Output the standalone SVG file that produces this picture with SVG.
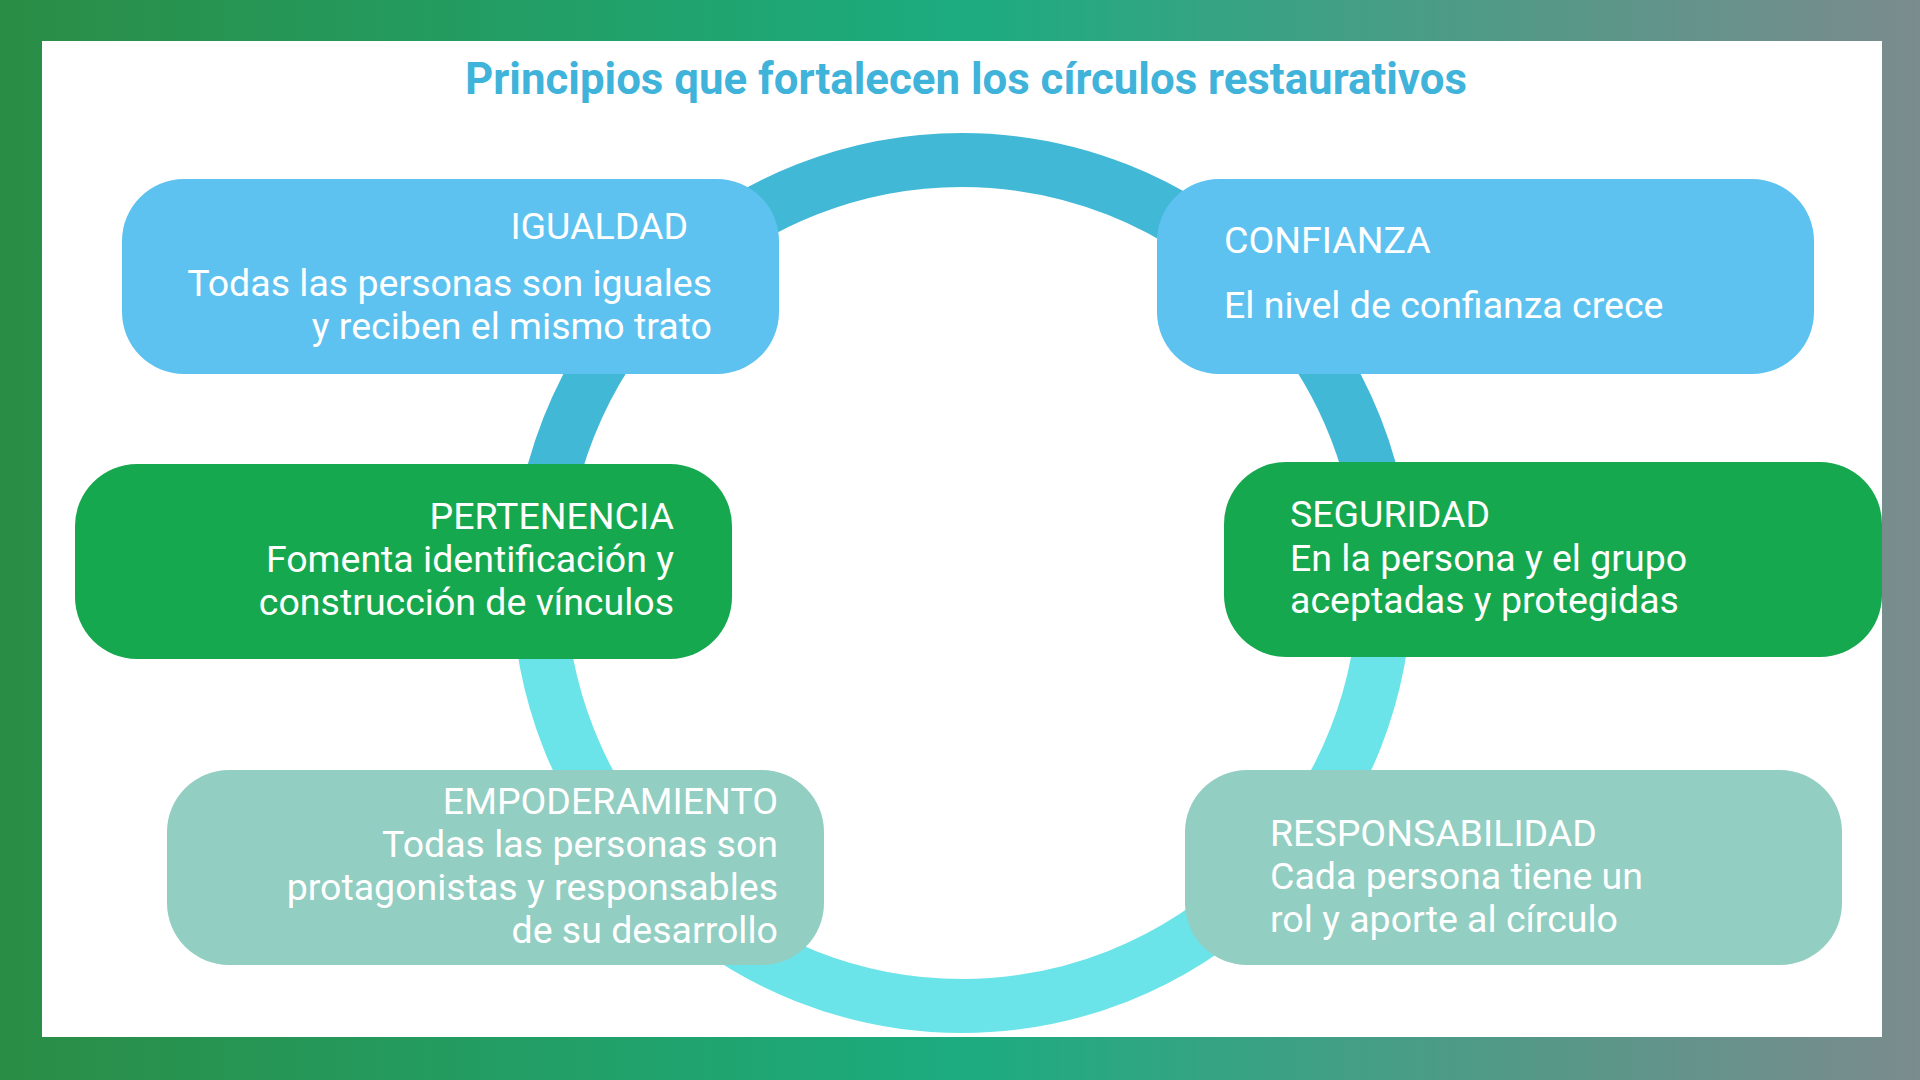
<svg xmlns="http://www.w3.org/2000/svg" width="1920" height="1080" viewBox="0 0 1920 1080">
<defs>
<linearGradient id="bg" x1="0" y1="0" x2="1" y2="0">
<stop offset="0" stop-color="#2A8D45"/>
<stop offset="0.5" stop-color="#1CAC7F"/>
<stop offset="1" stop-color="#7B8B8E"/>
</linearGradient>
</defs>
<style>
.t{font-family:Roboto,"Liberation Sans",sans-serif;font-size:37.5px;fill:#FFFFFF}
.title{font-family:Roboto,"Liberation Sans",sans-serif;font-size:43.8px;font-weight:bold;fill:#3FB3DA}
.blue{fill:#5DC2F0}
.green{fill:#16A84E}
.sage{fill:#92CEC2}
.ring{fill:none;stroke-width:54}
</style>
<rect x="0" y="0" width="1920" height="1080" fill="url(#bg)"/>
<rect x="42" y="41" width="1840" height="996" fill="#FFFFFF"/>
<text class="title" x="966" y="94" text-anchor="middle">Principios que fortalecen los círculos restaurativos</text>
<g id="connectors">
<path class="ring" stroke="#42B8D7" d="M539 583 A423 423 0 0 1 1385 583"/>
<path class="ring" stroke="#6AE4E9" d="M1385 583 A423 423 0 0 1 539 583"/>
</g>
<g id="igualdad">
<rect class="blue" x="122" y="179" width="657" height="195" rx="62" ry="62"/>
<text class="t" x="688" y="239" text-anchor="end">IGUALDAD</text>
<text class="t" x="712" y="296" text-anchor="end">Todas las personas son iguales</text>
<text class="t" x="712" y="339" text-anchor="end">y reciben el mismo trato</text>
</g>
<g id="confianza">
<rect class="blue" x="1157" y="179" width="657" height="195" rx="62" ry="62"/>
<text class="t" x="1224" y="253">CONFIANZA</text>
<text class="t" x="1224" y="318">El nivel de confianza crece</text>
</g>
<g id="pertenencia">
<rect class="green" x="75" y="464" width="657" height="195" rx="62" ry="62"/>
<text class="t" x="674" y="529" text-anchor="end">PERTENENCIA</text>
<text class="t" x="674" y="572" text-anchor="end">Fomenta identificación y</text>
<text class="t" x="674" y="615" text-anchor="end">construcción de vínculos</text>
</g>
<g id="seguridad">
<rect class="green" x="1224" y="462" width="658" height="195" rx="62" ry="62"/>
<text class="t" x="1290" y="527">SEGURIDAD</text>
<text class="t" x="1290" y="571">En la persona y el grupo</text>
<text class="t" x="1290" y="613">aceptadas y protegidas</text>
</g>
<g id="empoderamiento">
<rect class="sage" x="167" y="770" width="657" height="195" rx="62" ry="62"/>
<text class="t" x="778" y="814" text-anchor="end">EMPODERAMIENTO</text>
<text class="t" x="778" y="857" text-anchor="end">Todas las personas son</text>
<text class="t" x="778" y="900" text-anchor="end">protagonistas y responsables</text>
<text class="t" x="778" y="943" text-anchor="end">de su desarrollo</text>
</g>
<g id="responsabilidad">
<rect class="sage" x="1185" y="770" width="657" height="195" rx="62" ry="62"/>
<text class="t" x="1270" y="846">RESPONSABILIDAD</text>
<text class="t" x="1270" y="889">Cada persona tiene un</text>
<text class="t" x="1270" y="932">rol y aporte al círculo</text>
</g>
</svg>
